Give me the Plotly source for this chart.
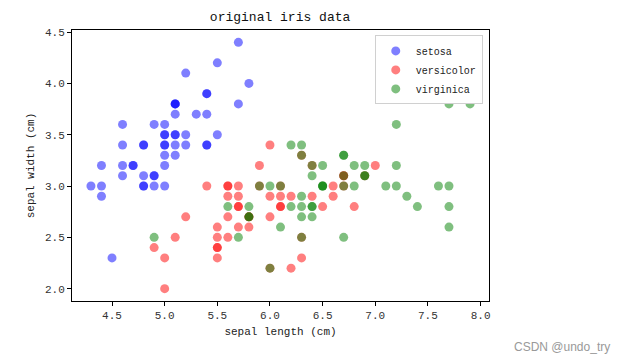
import plotly.graph_objects as go

setosa_x = [5.1,4.9,4.7,4.6,5.0,5.4,4.6,5.0,4.4,4.9,5.4,4.8,4.8,4.3,5.8,5.7,5.4,5.1,5.7,5.1,
            5.4,5.1,4.6,5.1,4.8,5.0,5.0,5.2,5.2,4.7,4.8,5.4,5.2,5.5,4.9,5.0,5.5,4.9,4.4,5.1,
            5.0,4.5,4.4,5.0,5.1,4.8,5.1,4.6,5.3,5.0]
setosa_y = [3.5,3.0,3.2,3.1,3.6,3.9,3.4,3.4,2.9,3.1,3.7,3.4,3.0,3.0,4.0,4.4,3.9,3.5,3.8,3.8,
            3.4,3.7,3.6,3.3,3.4,3.0,3.4,3.5,3.4,3.2,3.1,3.4,4.1,4.2,3.1,3.2,3.5,3.6,3.0,3.4,
            3.5,2.3,3.2,3.5,3.8,3.0,3.8,3.2,3.7,3.3]
versicolor_x = [7.0,6.4,6.9,5.5,6.5,5.7,6.3,4.9,6.6,5.2,5.0,5.9,6.0,6.1,5.6,6.7,5.6,5.8,6.2,5.6,
                5.9,6.1,6.3,6.1,6.4,6.6,6.8,6.7,6.0,5.7,5.5,5.5,5.8,6.0,5.4,6.0,6.7,6.3,5.6,5.5,
                5.5,6.1,5.8,5.0,5.6,5.7,5.7,6.2,5.1,5.7]
versicolor_y = [3.2,3.2,3.1,2.3,2.8,2.8,3.3,2.4,2.9,2.7,2.0,3.0,2.2,2.9,2.9,3.1,3.0,2.7,2.2,2.5,
                3.2,2.8,2.5,2.8,2.9,3.0,2.8,3.0,2.9,2.6,2.4,2.4,2.7,2.7,3.0,3.4,3.1,2.3,3.0,2.5,
                2.6,3.0,2.6,2.3,2.7,3.0,2.9,2.9,2.5,2.8]
virginica_x = [6.3,5.8,7.1,6.3,6.5,7.6,4.9,7.3,6.7,7.2,6.5,6.4,6.8,5.7,5.8,6.4,6.5,7.7,7.7,6.0,
               6.9,5.6,7.7,6.3,6.7,7.2,6.2,6.1,6.4,7.2,7.4,7.9,6.4,6.3,6.1,7.7,6.3,6.4,6.0,6.9,
               6.7,6.9,5.8,6.8,6.7,6.7,6.3,6.5,6.2,5.9]
virginica_y = [3.3,2.7,3.0,2.9,3.0,3.0,2.5,2.9,2.5,3.6,3.2,2.7,3.0,2.5,2.8,3.2,3.0,3.8,2.6,2.2,
               3.2,2.8,2.8,2.7,3.3,3.2,2.8,3.0,2.8,3.0,2.8,3.8,2.8,2.8,2.6,3.0,3.4,3.1,3.0,3.1,
               3.1,3.1,2.7,3.2,3.3,3.0,2.5,3.0,3.4,3.0]

series = [
    ("setosa", setosa_x, setosa_y, "rgba(0,0,255,0.5)"),
    ("versicolor", versicolor_x, versicolor_y, "rgba(255,0,0,0.5)"),
    ("virginica", virginica_x, virginica_y, "rgba(0,128,0,0.5)"),
]

FONT = "Liberation Mono"
fig = go.Figure()
for name, xs, ys, col in series:
    fig.add_trace(go.Scatter(x=xs, y=ys, mode="markers", name=name,
                             marker=dict(size=9, color=col, line=dict(width=0))))

axis_common = dict(showline=True, linecolor="black", linewidth=1, mirror=True,
                   ticks="outside", ticklen=4, tickcolor="black", showgrid=False,
                   zeroline=False, tickfont=dict(family=FONT, size=11, color="#333"))
fig.update_xaxes(range=[4.12, 8.08], tickvals=[4.5,5.0,5.5,6.0,6.5,7.0,7.5,8.0],
                 ticktext=["4.5","5.0","5.5","6.0","6.5","7.0","7.5","8.0"],
                 title=dict(text="sepal length (cm)", font=dict(family=FONT, size=11, color="#222"), standoff=6),
                 **axis_common)
fig.update_yaxes(range=[1.88, 4.52], tickvals=[2.0,2.5,3.0,3.5,4.0,4.5],
                 ticktext=["2.0","2.5","3.0","3.5","4.0","4.5"],
                 title=dict(text="sepal width (cm)", font=dict(family=FONT, size=11, color="#222"), standoff=8),
                 **axis_common)
fig.update_layout(
    width=628, height=364,
    margin=dict(l=72, r=139, t=30, b=63),
    paper_bgcolor="white", plot_bgcolor="white",
    title=dict(text="original iris data", x=0.446, xanchor="center", y=0.955, yanchor="middle",
               font=dict(family=FONT, size=13, color="#111")),
    legend=dict(x=0.985, xanchor="right", y=0.98, yanchor="top",
                bgcolor="white", bordercolor="#d0d0d0", borderwidth=1,
                font=dict(family=FONT, size=10, color="#222"), itemwidth=30,
                tracegroupgap=0),
    showlegend=True,
)
fig.add_annotation(text="CSDN @undo_try", xref="paper", yref="paper", x=1.0, xanchor="right",
                   y=-0.17, yanchor="middle", xshift=123, showarrow=False,
                   font=dict(family="Liberation Sans", size=12, color="#999"))
fig.write_html("out.html")
